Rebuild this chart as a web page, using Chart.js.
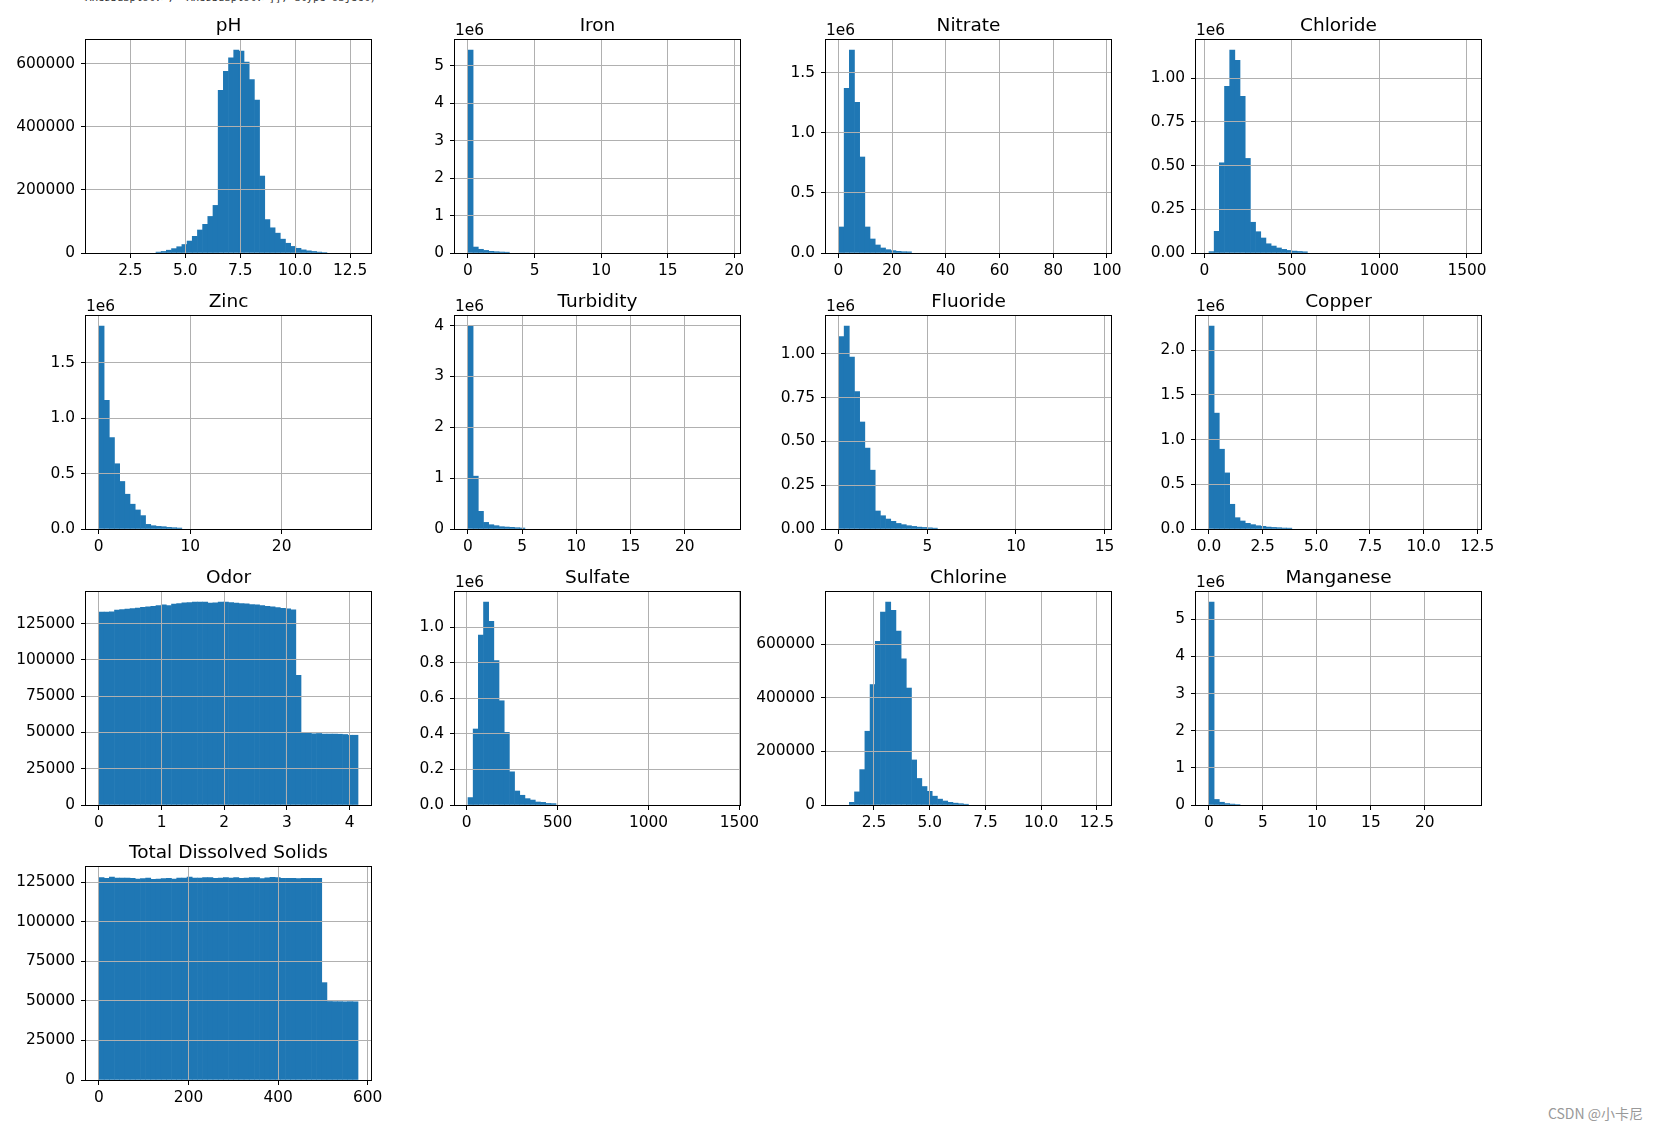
<!DOCTYPE html>
<html>
<head>
<meta charset="utf-8">
<script src="https://cdn.jsdelivr.net/npm/chart.js@4.4.0/dist/chart.umd.min.js"></script>
<style>
  body { margin: 0; background: #fff; width: 1657px; height: 1129px; position: relative; overflow: hidden; }
  canvas { position: absolute; }
  #topline { position: absolute; left: 79px; top: -9px; font: 10.5px "DejaVu Sans Mono", monospace; color: #333; white-space: pre; }
  #mark { position: absolute; right: 14px; top: 1103px; font: 14px "Noto Sans CJK SC", sans-serif; color: #999; }
</style>
</head>
<body>
<div id="topline">&lt;AxesSubplot:&gt;, &lt;AxesSubplot:&gt;]], dtype=object)</div>
<div id="mark">CSDN @小卡尼</div>
<script>
// --- Histogram data: 50 bins per column, [min, max] of the binned range ---
const phRange = [1.07, 12.86];
const phCounts = [0, 0, 0, 0, 0, 0, 0, 0, 0, 0, 0, 3000, 5000, 9000, 14000, 20000, 27000, 38000, 53000, 73000,
  91000, 116000, 151000, 516000, 576000, 619000, 643000, 640000, 605000, 550000, 485000, 244000, 106000, 80000, 63000,
  44000, 31000, 21000, 15000, 10000, 7000, 5000, 3000, 1500, 0, 0, 0, 0, 0, 0];
const phXTicks = ["2.5", "5.0", "7.5", "10.0", "12.5"];
const phYTicks = ["0", "200000", "400000", "600000"];

const ironRange = [0, 19.45];
const ironCounts = [5420000, 160000, 100000, 70000, 45000, 35000, 27000, 22000, 0, 0, 0, 0, 0, 0, 0,
  0, 0, 0, 0, 0, 0, 0, 0, 0, 0, 0, 0, 0, 0, 0, 0, 0, 0, 0, 0, 0, 0, 0, 0, 0, 0, 0, 0, 0, 0,
  0, 0, 0, 0, 0];
const ironXTicks = ["0", "5", "10", "15", "20"];
const ironYTicks = ["0", "1", "2", "3", "4", "5"];

const nitrateRange = [0.23, 96.7];
const nitrateCounts = [217000, 1373000, 1690000, 1256000, 800000, 217000, 117000, 67000, 42000, 28000, 20000, 14000,
  11000, 10000, 0, 0, 0, 0, 0, 0, 0, 0, 0, 0, 0, 0, 0, 0, 0, 0, 0, 0, 0, 0, 0, 0,
  0, 0, 0, 0, 0, 0, 0, 0, 0, 0, 0, 0, 0, 0];
const nitrateXTicks = ["0", "20", "40", "60", "80", "100"];
const nitrateYTicks = ["0.0", "0.5", "1.0", "1.5"];

const chlorideRange = [26.4, 1506];
const chlorideCounts = [8000, 124000, 516000, 953000, 1160000, 1102000, 896000, 541000, 176000, 122000, 86000, 53000,
  40000, 29000, 21000, 15000, 11000, 9000, 7000, 0, 0, 0, 0, 0, 0, 0, 0, 0, 0, 0, 0, 0, 0,
  0, 0, 0, 0, 0, 0, 0, 0, 0, 0, 0, 0, 0, 0, 0, 0, 0];
const chlorideXTicks = ["0", "500", "1000", "1500"];
const chlorideYTicks = ["0.00", "0.25", "0.50", "0.75", "1.00"];

const zincRange = [0.03, 28.35];
const zincCounts = [1830000, 1160000, 825000, 589000, 429000, 314000, 224000, 172000, 121000, 42000, 30000, 24000, 21000,
  15000, 12000, 9000, 0, 0, 0, 0, 0, 0, 0, 0, 0, 0, 0, 0, 0, 0, 0, 0, 0, 0, 0, 0, 0,
  0, 0, 0, 0, 0, 0, 0, 0, 0, 0, 0, 0, 0];
const zincXTicks = ["0", "10", "20"];
const zincYTicks = ["0.0", "0.5", "1.0", "1.5"];

const turbidityRange = [0, 23.9];
const turbidityCounts = [3990000, 1040000, 348000, 131000, 85000, 66000, 46000, 39000, 33000, 26000, 20000, 0, 0,
  0, 0, 0, 0, 0, 0, 0, 0, 0, 0, 0, 0, 0, 0, 0, 0, 0, 0, 0, 0, 0, 0, 0, 0, 0, 0, 0, 0, 0,
  0, 0, 0, 0, 0, 0, 0, 0];
const turbidityXTicks = ["0", "5", "10", "15", "20"];
const turbidityYTicks = ["0", "1", "2", "3", "4"];

const fluorideRange = [0.016, 14.63];
const fluorideCounts = [1099000, 1158000, 981000, 784000, 611000, 462000, 336000, 103000, 76000, 57000, 44000, 32000,
  25000, 19000, 15000, 11000, 9000, 7000, 5000, 0, 0, 0, 0, 0, 0, 0, 0, 0, 0, 0, 0, 0, 0, 0,
  0, 0, 0, 0, 0, 0, 0, 0, 0, 0, 0, 0, 0, 0, 0, 0];
const fluorideXTicks = ["0", "5", "10", "15"];
const fluorideYTicks = ["0.00", "0.25", "0.50", "0.75", "1.00"];

const copperRange = [0, 12.07];
const copperCounts = [2270000, 1297000, 893000, 628000, 277000, 127000, 90000, 64000, 49000, 37000, 30000, 22000, 18000,
  15000, 11000, 10000, 0, 0, 0, 0, 0, 0, 0, 0, 0, 0, 0, 0, 0, 0, 0, 0, 0, 0, 0, 0, 0,
  0, 0, 0, 0, 0, 0, 0, 0, 0, 0, 0, 0, 0];
const copperXTicks = ["0.0", "2.5", "5.0", "7.5", "10.0", "12.5"];
const copperYTicks = ["0.0", "0.5", "1.0", "1.5", "2.0"];

const odorRange = [0, 4.135];
const odorCounts = [132900, 132900, 133100, 134300, 134700, 135000, 135400, 135800, 136300, 136600, 137000, 137500,
  138000, 137500, 138400, 138900, 139300, 139600, 139800, 139800, 139800, 139100, 139300, 139800, 139800, 139600, 139100,
  138900, 138600, 138200, 137900, 137500, 137000, 136600, 136100, 135600, 135200, 134500, 89400, 50000, 49800, 49100,
  49300, 48900, 48900, 48900, 48800, 48600, 48100, 48100];
const odorXTicks = ["0", "1", "2", "3", "4"];
const odorYTicks = ["0", "25000", "50000", "75000", "100000", "125000"];

const sulfateRange = [7, 1432];
const sulfateCounts = [42000, 428000, 957000, 1142000, 1034000, 813000, 587000, 409000, 187000, 79000, 55000, 36000,
  28000, 17000, 15000, 9000, 8000, 0, 0, 0, 0, 0, 0, 0, 0, 0, 0, 0, 0, 0, 0, 0, 0, 0, 0,
  0, 0, 0, 0, 0, 0, 0, 0, 0, 0, 0, 0, 0, 0, 0];
const sulfateXTicks = ["0", "500", "1000", "1500"];
const sulfateYTicks = ["0.0", "0.2", "0.4", "0.6", "0.8", "1.0"];

const chlorineRange = [0.93, 12.55];
const chlorineCounts = [0, 0, 10000, 49000, 132000, 275000, 449000, 610000, 719000, 756000, 726000, 648000, 545000,
  436000, 168000, 99000, 69000, 51000, 33000, 22000, 15000, 10000, 7000, 5000, 3000, 0, 0, 0, 0, 0, 0, 0,
  0, 0, 0, 0, 0, 0, 0, 0, 0, 0, 0, 0, 0, 0, 0, 0, 0, 0];
const chlorineXTicks = ["2.5", "5.0", "7.5", "10.0", "12.5"];
const chlorineYTicks = ["0", "200000", "400000", "600000"];

const manganeseRange = [0, 24];
const manganeseCounts = [5460000, 150000, 75000, 40000, 25000, 15000, 0, 0, 0, 0, 0, 0, 0, 0,
  0, 0, 0, 0, 0, 0, 0, 0, 0, 0, 0, 0, 0, 0, 0, 0, 0, 0, 0, 0, 0, 0, 0, 0, 0, 0, 0, 0, 0, 0, 0, 0, 0,
  0, 0, 0];
const manganeseXTicks = ["0", "5", "10", "15", "20"];
const manganeseYTicks = ["0", "1", "2", "3", "4", "5"];

const tdsRange = [0, 578.5];
const tdsCounts = [127900, 127300, 128100, 127600, 127600, 127500, 127400, 126900, 127200, 127600, 126800, 126900, 127200,
  127300, 126900, 127500, 127600, 128100, 127500, 127500, 127900, 127900, 127400, 127500, 127900, 127600, 127900, 127300,
  127600, 127900, 127800, 127200, 127700, 128000, 127900, 127400, 127300, 127400, 127200, 127300, 127300, 127400, 127300,
  61500, 49600, 49500, 49500, 49400, 49500, 49400];
const tdsXTicks = ["0", "200", "400", "600"];
const tdsYTicks = ["0", "25000", "50000", "75000", "100000", "125000"];

// --- Grid layout (axes boxes in page pixels) ---
const COL_X = [86, 455, 826, 1196];
const ROW_Y = [40, 316, 592, 867];
const AX_W = 285, AX_H = 213;
const PAD_L = 110, PAD_T = 45, PAD_R = 45, PAD_B = 34;

const panels = [
  { title: "pH", range: phRange, counts: phCounts, xTicks: phXTicks, yTicks: phYTicks, mul: 1, col: 0, row: 0 },
  { title: "Iron", range: ironRange, counts: ironCounts, xTicks: ironXTicks, yTicks: ironYTicks, mul: 1e6, col: 1, row: 0 },
  { title: "Nitrate", range: nitrateRange, counts: nitrateCounts, xTicks: nitrateXTicks, yTicks: nitrateYTicks, mul: 1e6, col: 2, row: 0 },
  { title: "Chloride", range: chlorideRange, counts: chlorideCounts, xTicks: chlorideXTicks, yTicks: chlorideYTicks, mul: 1e6, col: 3, row: 0 },
  { title: "Zinc", range: zincRange, counts: zincCounts, xTicks: zincXTicks, yTicks: zincYTicks, mul: 1e6, col: 0, row: 1 },
  { title: "Turbidity", range: turbidityRange, counts: turbidityCounts, xTicks: turbidityXTicks, yTicks: turbidityYTicks, mul: 1e6, col: 1, row: 1 },
  { title: "Fluoride", range: fluorideRange, counts: fluorideCounts, xTicks: fluorideXTicks, yTicks: fluorideYTicks, mul: 1e6, col: 2, row: 1 },
  { title: "Copper", range: copperRange, counts: copperCounts, xTicks: copperXTicks, yTicks: copperYTicks, mul: 1e6, col: 3, row: 1 },
  { title: "Odor", range: odorRange, counts: odorCounts, xTicks: odorXTicks, yTicks: odorYTicks, mul: 1, col: 0, row: 2 },
  { title: "Sulfate", range: sulfateRange, counts: sulfateCounts, xTicks: sulfateXTicks, yTicks: sulfateYTicks, mul: 1e6, col: 1, row: 2 },
  { title: "Chlorine", range: chlorineRange, counts: chlorineCounts, xTicks: chlorineXTicks, yTicks: chlorineYTicks, mul: 1, col: 2, row: 2 },
  { title: "Manganese", range: manganeseRange, counts: manganeseCounts, xTicks: manganeseXTicks, yTicks: manganeseYTicks, mul: 1e6, col: 3, row: 2 },
  { title: "Total Dissolved Solids", range: tdsRange, counts: tdsCounts, xTicks: tdsXTicks, yTicks: tdsYTicks, mul: 1, col: 0, row: 3 },
];

Chart.defaults.font.family = '"DejaVu Sans", sans-serif';
Chart.defaults.font.size = 15.4;
Chart.defaults.color = '#000';

// axes frame, title and the "1e6" offset text, like matplotlib draws them
const framePlugin = {
  id: 'frame',
  afterDraw(chart, args, opts) {
    const { ctx, chartArea: a } = chart;
    ctx.save();
    ctx.strokeStyle = '#000';
    ctx.lineWidth = 1;
    ctx.strokeRect(a.left - 0.5, a.top - 0.5, a.right - a.left + 1, a.bottom - a.top + 1);
    ctx.fillStyle = '#000';
    ctx.textBaseline = 'alphabetic';
    ctx.font = '18.5px "DejaVu Sans"';
    ctx.textAlign = 'center';
    ctx.fillText(opts.title, (a.left + a.right) / 2, a.top - 9);
    if (opts.offset) {
      ctx.font = '15.4px "DejaVu Sans"';
      ctx.textAlign = 'left';
      ctx.fillText(opts.offset, a.left, a.top - 5);
    }
    ctx.restore();
  }
};

function makePanel(p) {
  const cv = document.createElement('canvas');
  cv.width = PAD_L + AX_W + PAD_R;
  cv.height = PAD_T + AX_H + PAD_B;
  cv.style.left = (COL_X[p.col] - PAD_L) + 'px';
  cv.style.top = (ROW_Y[p.row] - PAD_T) + 'px';
  document.body.appendChild(cv);

  const [lo, hi] = p.range;
  const span = hi - lo;
  const bw = span / p.counts.length;
  const points = p.counts.map((c, i) => ({ x: lo + (i + 0.5) * bw, y: c }));
  const xVals = p.xTicks.map(Number);
  const yVals = p.yTicks.map(s => Number(s) * p.mul);

  new Chart(cv, {
    type: 'bar',
    data: {
      datasets: [{
        data: points,
        backgroundColor: '#1f77b4',
        borderWidth: 0,
        // slight overlap hides seams between bars; empty bins stay invisible
        inflateAmount: c => (c.raw && c.raw.y > 0 ? 0.3 : 0),
        barPercentage: 1,
        categoryPercentage: 1
      }]
    },
    options: {
      responsive: false,
      animation: false,
      events: [],
      layout: { padding: { left: 0, top: PAD_T, right: PAD_R, bottom: 0 } },
      plugins: {
        legend: { display: false },
        tooltip: { enabled: false },
        frame: { title: p.title, offset: p.mul === 1e6 ? '1e6' : '' }
      },
      scales: {
        x: {
          type: 'linear',
          offset: false,
          min: lo - 0.05 * span,
          max: hi + 0.05 * span,
          afterFit: s => { s.height = PAD_B; },
          afterBuildTicks: s => { s.ticks = xVals.map(v => ({ value: v })); },
          ticks: { autoSkip: false, maxRotation: 0, padding: 4, callback: (v, i) => p.xTicks[i] },
          grid: { offset: false, z: 1, color: '#b0b0b0', lineWidth: 1, tickColor: '#000', tickLength: 5 },
          border: { display: false }
        },
        y: {
          min: 0,
          max: Math.max(...p.counts) * 1.05,
          afterFit: s => { s.width = PAD_L; },
          afterBuildTicks: s => { s.ticks = yVals.map(v => ({ value: v })); },
          ticks: { autoSkip: false, padding: 6, callback: (v, i) => p.yTicks[i] },
          grid: { offset: false, z: 1, color: '#b0b0b0', lineWidth: 1, tickColor: '#000', tickLength: 5 },
          border: { display: false }
        }
      }
    },
    plugins: [framePlugin]
  });
}

panels.forEach(makePanel);
</script>
</body>
</html>
